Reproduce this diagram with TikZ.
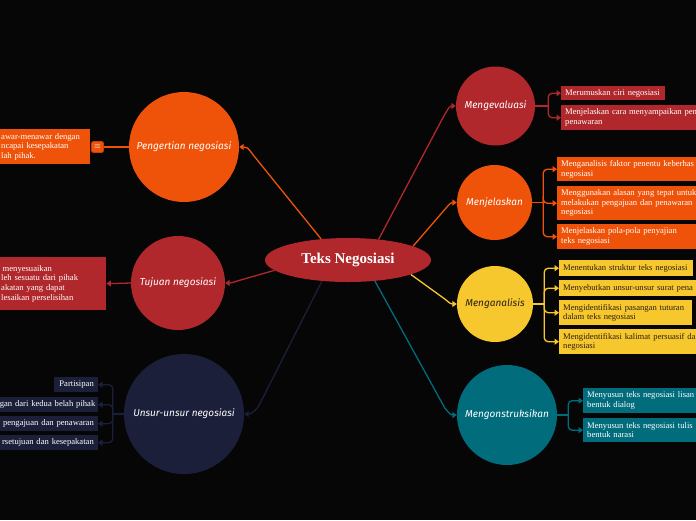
\documentclass[tikz,border=0pt]{standalone}
\usepackage{fontspec}
\usetikzlibrary{shapes.geometric,arrows.meta,calc}
\newfontfamily\lserif{Liberation Serif}
\newfontfamily\hand{Fira Sans}
\definecolor{bgc}{RGB}{6,6,6}
\definecolor{cred}{RGB}{176,40,43}
\definecolor{corange}{RGB}{239,83,10}
\definecolor{cicon}{RGB}{200,62,5}
\definecolor{cnavy}{RGB}{27,31,58}
\definecolor{cyellow}{RGB}{247,199,46}
\definecolor{cteal}{RGB}{0,108,124}
\definecolor{ctext}{RGB}{40,32,20}
\tikzset{
  topic/.style={circle, inner sep=0pt, font=\hand\itshape\fontsize{10}{12}\selectfont, text=white},
  leaf/.style={anchor=north west, inner xsep=4pt, inner ysep=0pt, align=left, font=\lserif\fontsize{8.6}{9.6}\selectfont, text=white},
  leafr/.style={leaf, anchor=north east, align=right},
  conn/.style={line width=1.3pt, -{Triangle[width=6pt,length=4.5pt]}},
  brk/.style={conn, rounded corners=4pt},
  stub/.style={line width=1.3pt},
}
\begin{document}
\begin{tikzpicture}[x=1pt,y=-1pt]
\fill[bgc] (0,0) rectangle (696,520);
\useasboundingbox (0,0) rectangle (696,520);

% central
\node[ellipse, fill=cred, minimum width=166pt, minimum height=44pt, inner sep=0pt, text=white, font=\lserif\bfseries\fontsize{15}{18}\selectfont] (E) at (348,260) {Teks Negosiasi};

% topics
\node[topic, fill=corange, minimum size=110pt] (P) at (184,147) {Pengertian negosiasi};
\node[topic, fill=cred, minimum size=94pt] (T) at (178,283) {Tujuan negosiasi};
\node[topic, fill=cnavy, minimum size=120pt] (U) at (184,414) {Unsur-unsur negosiasi};
\node[topic, fill=cred, minimum size=79pt] (Ev) at (495.5,106) {Mengevaluasi};
\node[topic, fill=corange, minimum size=75pt] (Mj) at (494.5,202.5) {Menjelaskan};
\node[topic, fill=cyellow, minimum size=76pt, text=ctext] (Ma) at (495,304) {Menganalisis};
\node[topic, fill=cteal, minimum size=100pt] (Mk) at (507,415) {Mengonstruksikan};

% central connectors
\draw[conn, corange] (E.142) -- ($(P.east)+(14,8)$) .. controls ($(P.east)+(8,0)$) .. (P.east);
\draw[conn, cred] (E.188) -- ($(T.east)+(12,-2)$) .. controls ($(T.east)+(6,0)$) .. (T.east);
\draw[conn, cnavy] (E.219) -- ($(U.east)+(14,-7)$) .. controls ($(U.east)+(7,0)$) .. (U.east);
\draw[conn, cred] (E.34) -- ($(Ev.west)+(-12,10)$) .. controls ($(Ev.west)+(-6,0)$) .. (Ev.west);
\draw[conn, corange] (E.12) -- ($(Mj.west)+(-12,7)$) .. controls ($(Mj.west)+(-6,0)$) .. (Mj.west);
\draw[conn, cyellow] (E.-13) -- ($(Ma.west)+(-12,-5)$) .. controls ($(Ma.west)+(-6,0)$) .. (Ma.west);
\draw[conn, cteal] (E.-38) -- ($(Mk.west)+(-12,-7)$) .. controls ($(Mk.west)+(-6,0)$) .. (Mk.west);

% Pengertian leaf
\node[leaf, fill=corange, inner xsep=1pt, text width=88pt, minimum height=35pt] (pg) at (0,129) {\mbox{awar-menawar dengan}\\\mbox{ncapai kesepakatan}\\lah pihak.};
\node[fill=corange, draw=cicon, line width=0.8pt, rounded corners=2pt, minimum width=12pt, minimum height=11pt, inner sep=0pt, text=white, font=\fontsize{8}{8}\selectfont] (ic) at (97.5,147) {$\equiv$};
\draw[stub, corange] (P.west) -- (ic.east);

% Tujuan leaf
\node[leaf, fill=cred, inner xsep=1pt, text width=104pt, minimum height=53pt] (tj) at (0,257) {\hspace{1.5pt}menyesuaikan\\\mbox{leh sesuatu dari pihak}\\\mbox{akatan yang dapat}\\\mbox{lesaikan perselisihan}};
\draw[conn, cred] (T.west) -- (tj.east);

% Unsur leaves
\node[leafr, fill=cnavy, text width=36pt, minimum height=15pt] (us1) at (98,377) {Partisipan};
\node[leafr, fill=cnavy, text width=94pt, minimum height=15pt] (us2) at (98,397) {\mbox{gan dari kedua belah pihak}};
\node[leafr, fill=cnavy, text width=94pt, minimum height=15pt] (us3) at (98,416) {\mbox{pengajuan dan penawaran}};
\node[leafr, fill=cnavy, text width=94pt, minimum height=15pt] (us4) at (98,435) {\mbox{rsetujuan dan kesepakatan}};
\coordinate (ju) at ($(U.west)+(-11,0)$);
\draw[stub, cnavy] (U.west) -- (ju);
\foreach \n in {us1,us2,us3,us4} \draw[brk, cnavy] (ju) |- (\n.east);

% Mengevaluasi leaves
\node[leaf, fill=cred, text width=96pt, minimum height=14pt] (ev1) at (561,86) {\mbox{Merumuskan ciri negosiasi}};
\node[leaf, fill=cred, text width=128pt, minimum height=25pt] (ev2) at (561,105) {\mbox{Menjelaskan cara menyampaikan pen}\\penawaran};
\coordinate (jev) at ($(Ev.east)+(13,0)$);
\draw[stub, cred] (Ev.east) -- (jev);
\foreach \n in {ev1,ev2} \draw[brk, cred] (jev) |- (\n.west);

% Menjelaskan leaves
\node[leaf, fill=corange, text width=132pt, minimum height=24pt] (mj1) at (557,157) {\mbox{Menganalisis faktor penentu keberhas}\\negosiasi};
\node[leaf, fill=corange, text width=132pt, minimum height=34pt] (mj2) at (557,186) {\mbox{Menggunakan alasan yang tepat untuk}\\\mbox{melakukan pengajuan dan penawaran}\\negosiasi};
\node[leaf, fill=corange, text width=132pt, minimum height=25pt] (mj3) at (557,224) {\mbox{Menjelaskan pola-pola penyajian}\\teks negosiasi};
\coordinate (jmj) at ($(Mj.east)+(11,0)$);
\draw[stub, corange] (Mj.east) -- (jmj);
\foreach \n in {mj1,mj2,mj3} \draw[brk, corange] (jmj) |- (\n.west);

% Menganalisis leaves
\node[leaf, fill=cyellow, text=ctext, text width=126pt, minimum height=16pt] (ma1) at (559,260) {\mbox{Menentukan struktur teks negosiasi}};
\node[leaf, fill=cyellow, text=ctext, text width=130pt, minimum height=16pt] (ma2) at (559,280) {\mbox{Menyebutkan unsur-unsur surat pena}};
\node[leaf, fill=cyellow, text=ctext, text width=125pt, minimum height=25pt] (ma3) at (559,300) {\mbox{Mengidentifikasi pasangan tuturan}\\dalam teks negosiasi};
\node[leaf, fill=cyellow, text=ctext, text width=130pt, minimum height=25pt] (ma4) at (559,329) {\mbox{Mengidentifikasi kalimat persuasif da}\\negosiasi};
\coordinate (jma) at ($(Ma.east)+(11,0)$);
\draw[stub, cyellow] (Ma.east) -- (jma);
\foreach \n in {ma1,ma2,ma3,ma4} \draw[brk, cyellow] (jma) |- (\n.west);

% Mengonstruksikan leaves
\node[leaf, fill=cteal, text width=106pt, minimum height=25pt] (mk1) at (583,388) {\mbox{Menyusun teks negosiasi lisan}\\bentuk dialog};
\node[leaf, fill=cteal, text width=106pt, minimum height=24pt] (mk2) at (583,418) {\mbox{Menyusun teks negosiasi tulis}\\bentuk narasi};
\coordinate (jmk) at ($(Mk.east)+(11,0)$);
\draw[stub, cteal] (Mk.east) -- (jmk);
\foreach \n in {mk1,mk2} \draw[brk, cteal] (jmk) |- (\n.west);
\end{tikzpicture}
\end{document}
